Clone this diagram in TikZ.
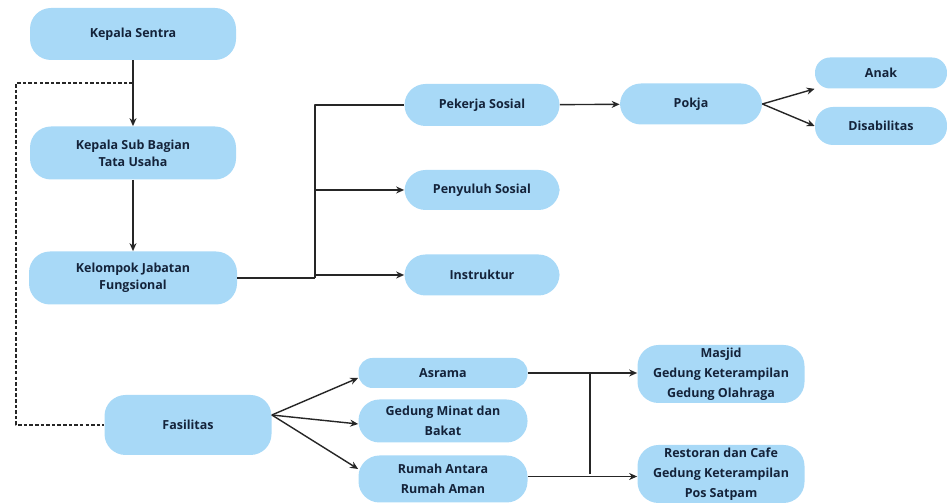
\documentclass[tikz,border=0pt]{standalone}
\usepackage{fontspec}
\setmainfont{Open Sans}
\usepackage{tikz}
\usetikzlibrary{arrows.meta}
\definecolor{boxblue}{HTML}{A8D9F7}
\definecolor{navy}{HTML}{14233A}
\tikzset{
  every picture/.style={line join=round, >={Stealth[length=1.6mm,width=1.4mm]}},
  unit/.style={fill=boxblue, rounded corners=0.42cm, text=navy, align=center,
    font=\fontsize{7.1}{9.8}\selectfont\bfseries, inner sep=2pt},
  wide lines/.style={font=\fontsize{7.1}{11.4}\selectfont\bfseries},
  link/.style={line width=0.8pt, draw=black!85},
}

\begin{document}
\begin{tikzpicture}
\useasboundingbox (0,0) rectangle (18.94,10.08);
% left column
\node[unit,minimum width=4.12cm,minimum height=1.04cm] (ks) at (2.66,9.40) {Kepala Sentra};
\node[unit,minimum width=4.12cm,minimum height=1.06cm] (ksb) at (2.66,7.02) {Kepala Sub Bagian\\Tata Usaha};
\node[unit,minimum width=4.16cm,minimum height=1.06cm] (kjf) at (2.66,4.52) {Kelompok Jabatan\\Fungsional};
\node[unit,minimum width=3.34cm,minimum height=1.20cm] (fas) at (3.76,1.58) {Fasilitas};
% jabatan fungsional
\node[unit,minimum width=3.10cm,minimum height=0.84cm] (ps) at (9.64,7.98) {Pekerja Sosial};
\node[unit,minimum width=3.10cm,minimum height=0.80cm] (pen) at (9.64,6.28) {Penyuluh Sosial};
\node[unit,minimum width=3.10cm,minimum height=0.82cm] (ins) at (9.64,4.58) {Instruktur};
\node[unit,minimum width=2.84cm,minimum height=0.82cm] (pokja) at (13.82,8.00) {Pokja};
\node[unit,minimum width=2.64cm,minimum height=0.62cm,rounded corners=0.3cm] (anak) at (17.62,8.62) {Anak};
\node[unit,minimum width=2.64cm,minimum height=0.76cm,rounded corners=0.36cm] (dis) at (17.62,7.56) {Disabilitas};
% fasilitas
\node[unit,minimum width=3.38cm,minimum height=0.60cm,rounded corners=0.28cm] (asr) at (8.86,2.62) {Asrama};
\node[unit,wide lines,minimum width=3.38cm,minimum height=0.86cm] (gmb) at (8.86,1.66) {Gedung Minat dan\\Bakat};
\node[unit,wide lines,minimum width=3.38cm,minimum height=0.94cm] (rar) at (8.86,0.50) {Rumah Antara\\Rumah Aman};
\node[unit,wide lines,minimum width=3.34cm,minimum height=1.16cm,inner sep=0pt] (msj) at (14.42,2.60) {Masjid\\Gedung Keterampilan\\Gedung Olahraga};
\node[unit,wide lines,minimum width=3.34cm,minimum height=1.16cm,inner sep=0pt] (rest) at (14.42,0.60) {Restoran dan Cafe\\Gedung Keterampilan\\Pos Satpam};
\coordinate (dash) at (2.66,8.42);
\coordinate (jf) at (6.30,4.52);
\coordinate (fs) at (11.80,2.62);
% connectors
\draw[link,->] (ks) -- (ksb);
\draw[link,->] (ksb) -- (kjf);
\draw[link,dashed,dash pattern=on 2pt off 1.2pt] (dash) -| (0.32,1.58) -- (fas.west);
\draw[link] (kjf.east) -- (jf);
\draw[link] (jf) |- (ps.west);
\draw[link,->] (jf |- pen) -- (pen.west);
\draw[link,->] (jf |- ins) -- (ins.west);
\draw[link,->] (ps) -- (pokja);
\draw[link,->] (pokja.east) -- (anak.south west);
\draw[link,->] (pokja.east) -- (dis.west);
\draw[link,->] ([yshift=0.2cm]fas.east) -- ([yshift=-0.1cm]asr.west);
\draw[link,->] ([yshift=0.2cm]fas.east) -- ([yshift=-0.06cm]gmb.west);
\draw[link,->] ([yshift=0.2cm]fas.east) -- ([yshift=0.2cm]rar.west);
\draw[link,->] (asr) -- (asr -| msj.west);
\draw[link,->] ([yshift=0.05cm]rar.east) -- ([yshift=0.05cm]rar.east -| rest.west);
\draw[link] (fs) -- (fs |- rest);
\end{tikzpicture}
\end{document}
